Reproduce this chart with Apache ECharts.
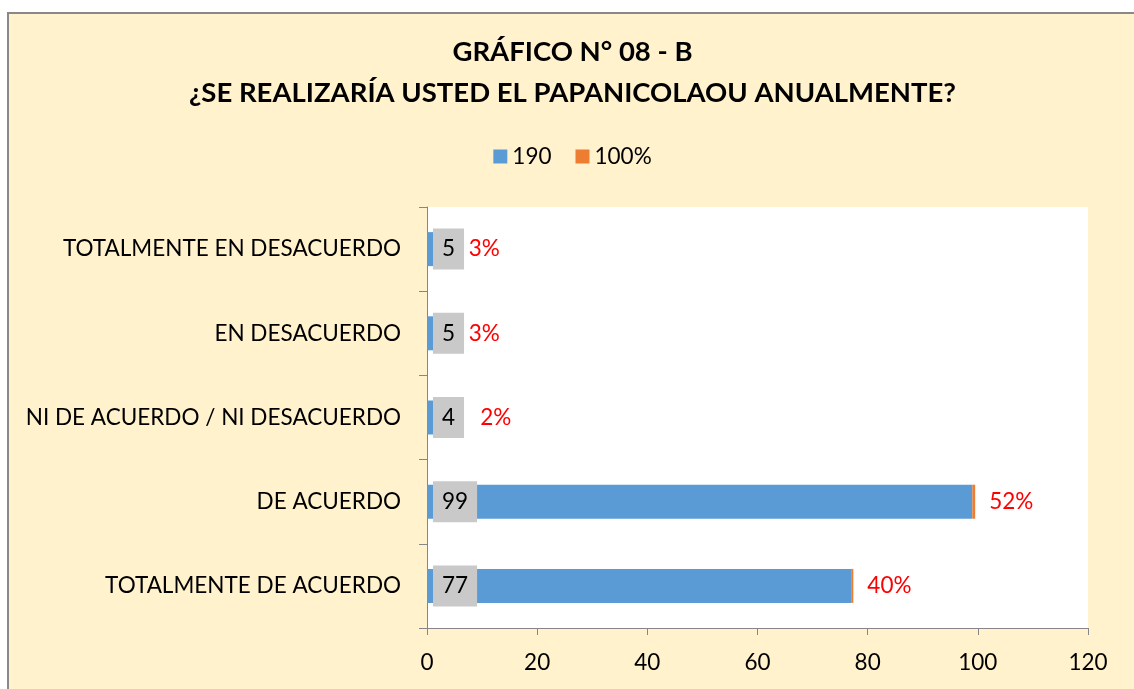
<!DOCTYPE html>
<html>
<head>
<meta charset="utf-8">
<script src="https://cdn.jsdelivr.net/npm/echarts@6/dist/echarts.min.js"></script>
<style>
  html, body { margin: 0; padding: 0; background: #fff; overflow: hidden; }
  #chart {
    position: absolute;
    left: 7px;
    top: 12px;
    width: 1127px;
    height: 677px;
    background: #FFF2CC;
    border-top: 2px solid #898989;
    border-left: 2px solid #898989;
  }
</style>
</head>
<body>
<div id="chart"></div>
<script>
// categorias de abajo hacia arriba (orden del eje)
const categories = [
  'TOTALMENTE DE ACUERDO',
  'DE ACUERDO',
  'NI DE ACUERDO / NI DESACUERDO',
  'EN DESACUERDO',
  'TOTALMENTE EN DESACUERDO'
];
const counts = [77, 99, 4, 5, 5];           // serie "190"
const shares = [0.40, 0.52, 0.02, 0.03, 0.03]; // serie "100%"
const xTicks = { min: 0, max: 120, interval: 20 };

const fontFamily = 'Lato, "Open Sans", sans-serif';
const axisColor = '#868686';
const fs = 22.5;

const chart = echarts.init(document.getElementById('chart'));

// separacion extra para la etiqueta del 2%
const extraGap = [0, 0, 17, 0, 0];

const option = {
  textStyle: { fontFamily: fontFamily },
  title: {
    text: 'GRÁFICO N° 08 - B\n¿SE REALIZARÍA USTED EL PAPANICOLAOU ANUALMENTE?',
    left: 'center',
    top: 13,
    textStyle: {
      fontFamily: fontFamily,
      fontSize: 27.5,
      fontWeight: 'bold',
      color: '#000',
      lineHeight: 41
    }
  },
  legend: {
    data: ['190', '100%'],
    top: 126,
    left: 'center',
    icon: 'rect',
    itemWidth: 14,
    itemHeight: 14,
    itemGap: 24,
    textStyle: { fontFamily: fontFamily, fontSize: fs, color: '#000' }
  },
  grid: {
    left: 418,
    right: 48,
    top: 193,
    bottom: 63,
    show: true,
    backgroundColor: '#fff',
    borderWidth: 0
  },
  xAxis: {
    type: 'value',
    min: xTicks.min,
    max: xTicks.max,
    interval: xTicks.interval,
    axisLine: { show: true, lineStyle: { color: axisColor } },
    axisTick: { show: true, length: 7, lineStyle: { color: axisColor } },
    splitLine: { show: false },
    axisLabel: { fontSize: fs, color: '#000', margin: 23, fontFamily: fontFamily }
  },
  yAxis: {
    type: 'category',
    data: categories,
    axisLine: { show: true, lineStyle: { color: axisColor } },
    axisTick: { show: true, length: 8, lineStyle: { color: axisColor } },
    axisLabel: { fontSize: fs, color: '#000', margin: 26, fontFamily: fontFamily }
  },
  series: [
    {
      name: '190',
      type: 'bar',
      stack: 'total',
      barWidth: 34,
      data: counts,
      itemStyle: { color: '#5B9BD5' },
      label: {
        show: true,
        position: 'insideLeft',
        distance: 6,
        fontSize: fs,
        color: '#000',
        fontFamily: fontFamily,
        backgroundColor: '#C9C9C9',
        padding: [10, 9, 9, 9],
        lineHeight: 22
      }
    },
    {
      name: '100%',
      type: 'bar',
      stack: 'total',
      barWidth: 34,
      data: shares.map((v, i) => ({
        value: v,
        label: { distance: 14 + extraGap[i] }
      })),
      itemStyle: { color: '#ED7D31' },
      label: {
        show: true,
        position: 'right',
        fontSize: fs,
        color: '#FF0000',
        fontFamily: fontFamily,
        formatter: (p) => Math.round(p.value * 100) + '%'
      }
    }
  ]
};

chart.setOption(option);
</script>
</body>
</html>
